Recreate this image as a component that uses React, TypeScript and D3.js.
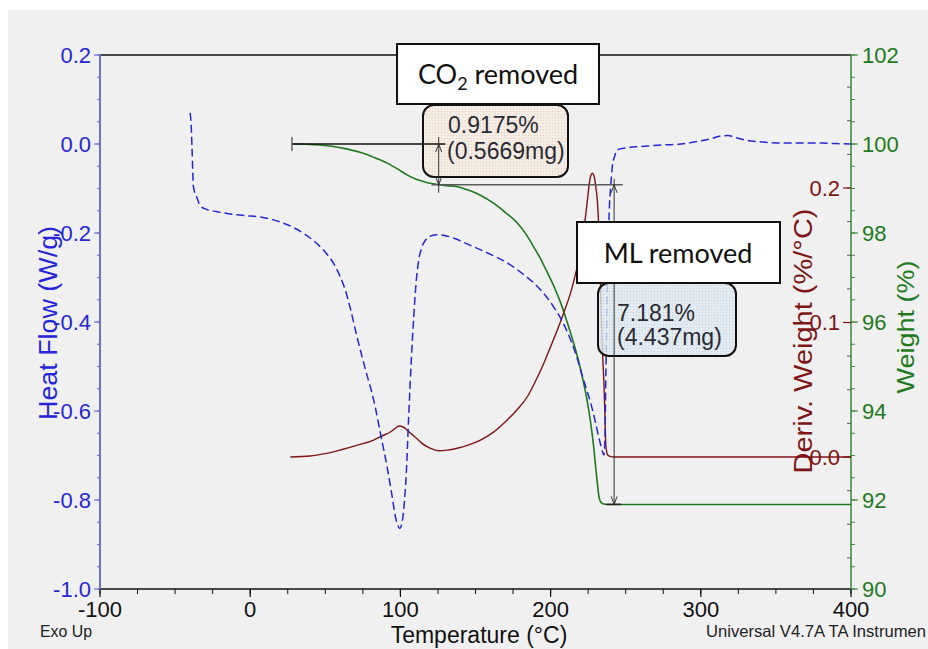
import React from "react";
import * as d3 from "d3";

// ---- Heat flow (W/g) ----
const hfTemp = [-40, -39.3, -38.7, -37.8, -35.3, -33.3, -29, -22.2, -12, 0, 6.7, 15, 22.2, 29, 35.5, 41, 46.7, 51, 55.5, 59.5, 63.3, 67, 71.1, 77, 82.2, 87, 91.1, 94.5, 96.7, 98.3, 99.5, 100.8, 102.2, 104, 105.5, 107.2, 108.9, 110.5, 112.2, 114.3, 116.7, 120, 124.5, 130, 136.7, 142, 148.9, 160, 171.1, 180, 188.7, 196, 202, 208, 213.3, 217, 220, 223.5, 226.7, 229.5, 232, 233.5, 234.6, 235.5, 236.2, 236.7, 237.3, 237.8, 238.4, 238.9, 240, 241.1, 242.7, 244.5, 250, 258, 266.7, 276, 286.7, 293, 300, 307, 313.3, 318, 323.3, 333.3, 343, 353.3, 366, 380, 390, 400];
const hfValue = [0.07, 0.043, -0.013, -0.096, -0.122, -0.139, -0.147, -0.152, -0.158, -0.162, -0.164, -0.17, -0.178, -0.188, -0.201, -0.214, -0.231, -0.247, -0.268, -0.295, -0.328, -0.374, -0.433, -0.51, -0.575, -0.655, -0.725, -0.792, -0.838, -0.857, -0.864, -0.855, -0.822, -0.735, -0.613, -0.49, -0.388, -0.31, -0.261, -0.232, -0.216, -0.207, -0.204, -0.206, -0.213, -0.221, -0.231, -0.248, -0.267, -0.288, -0.312, -0.338, -0.366, -0.4, -0.44, -0.474, -0.508, -0.547, -0.582, -0.62, -0.658, -0.678, -0.692, -0.699, -0.66, -0.538, -0.42, -0.312, -0.225, -0.163, -0.095, -0.051, -0.027, -0.013, -0.009, -0.006, -0.004, -0.002, 0.0, 0.003, 0.007, 0.012, 0.018, 0.019, 0.014, 0.007, 0.004, 0.002, 0.002, 0.002, 0.001, 0.0];

// ---- Derivative weight (%/°C) ----
const dwTemp = [26.7, 40, 50, 60, 72, 82.2, 88, 93.3, 96.5, 98.9, 101.5, 104.5, 107.5, 110.7, 114, 117.8, 121.5, 125.5, 131, 137.8, 145, 153.3, 162, 171.1, 178, 184.5, 190, 195.5, 200, 204.5, 209, 213.3, 217, 220, 222.5, 224.5, 225.5, 226.3, 227.1, 227.8, 228.6, 229.3, 230.2, 231.1, 232.2, 233.3, 234.5, 235.5, 236.2, 236.7, 237.3, 238, 240, 242.2, 260, 300, 350, 400];
const dwValue = [0, 0.0007, 0.0025, 0.0052, 0.009, 0.0126, 0.0158, 0.0186, 0.0212, 0.023, 0.0225, 0.02, 0.017, 0.014, 0.0105, 0.0077, 0.0058, 0.0047, 0.0051, 0.0065, 0.0088, 0.0126, 0.0185, 0.0275, 0.0355, 0.0448, 0.0565, 0.0697, 0.082, 0.0944, 0.108, 0.122, 0.138, 0.154, 0.172, 0.191, 0.201, 0.207, 0.21, 0.211, 0.21, 0.207, 0.2, 0.191, 0.167, 0.125, 0.08, 0.055, 0.03, 0.01, 0.004, 0.0015, 0.0003, 0, 0, 0, 0, 0];

// ---- Weight (%) ----
const wTemp = [28, 33.3, 43, 53.3, 64, 75.3, 83, 91.3, 98, 104.7, 111, 118, 124.7, 131, 138, 144.7, 153.3, 162, 170, 178, 183.5, 188.7, 193.5, 198, 202.5, 206.7, 211, 215.3, 218.8, 222, 224.5, 226.7, 228.5, 230, 231.2, 232.2, 233.2, 234, 235.5, 237.3, 300, 400];
const wValue = [100, 100, 99.985, 99.955, 99.89, 99.79, 99.69, 99.57, 99.44, 99.3, 99.2, 99.13, 99.09, 99.065, 99.04, 98.97, 98.85, 98.67, 98.46, 98.22, 97.98, 97.69, 97.41, 97.1, 96.78, 96.43, 96.0, 95.53, 95.1, 94.63, 94.2, 93.73, 93.25, 92.74, 92.35, 92.07, 91.97, 91.93, 91.91, 91.9, 91.9, 91.9];

// ---- Step annotation (weight loss analysis) ----
const stepLevels = [100, 100 - 0.9175, 100 - 0.9175 - 7.181];
const stepArrowTemps = [125.5, 242.3];
const stepStartTemp = 27.8;
const stepLineEnds = [[27.8, 130], [120.7, 248], [237, 247]];
const stepLabels = [["0.9175%", "(0.5669mg)"], ["7.181%", "(4.437mg)"]];

// ---- Axes ticks ----
const xTicks = [-100, 0, 100, 200, 300, 400];
const hfTicks = [0.2, 0.0, -0.2, -0.4, -0.6, -0.8, -1.0];
const dwTicks = [0.0, 0.1, 0.2];
const wTicks = [90, 92, 94, 96, 98, 100, 102];

const W = 928;
const H = 649;
const L = 100;
const R = 851;
const T = 55;
const B = 589;

const x = d3.scaleLinear().domain([-100, 400]).range([L, R]);
const yHF = d3.scaleLinear().domain([-1.0, 0.2]).range([B, T]);
const yW = d3.scaleLinear().domain([90, 102]).range([B, T]);
const yD = d3.scaleLinear().domain([0, 0.2]).range([457, 188]);

const FONT = "'Liberation Sans', Arial, sans-serif";
const BOXFONT = "Lato, 'Open Sans', sans-serif";
const BLUE = "#2626d6";
const BROWN = "#7e1414";
const GREEN = "#1d7a1d";

function mkLine(tt: number[], vv: number[], ys: d3.ScaleLinear<number, number>) {
  const pts: [number, number][] = tt.map((t, i) => [t, vv[i]]);
  return d3
    .line<[number, number]>()
    .x((d) => x(d[0]))
    .y((d) => ys(d[1]))
    .curve(d3.curveMonotoneX)(pts) as string;
}

function range(a: number, b: number, s: number) {
  const out: number[] = [];
  for (let v = a; v <= b + 1e-9; v += s) out.push(+v.toFixed(4));
  return out;
}

function ArrowV({ xp, y1, y2, tipUp, tipDown }: { xp: number; y1: number; y2: number; tipUp: number; tipDown: number }) {
  return (
    <g stroke="#333" strokeWidth={1} fill="none">
      <line x1={xp} x2={xp} y1={y1} y2={y2} />
      <path d={`M${xp - 3},${tipUp + 8} L${xp},${tipUp} L${xp + 3},${tipUp + 8}`} />
      <path d={`M${xp - 3},${tipDown - 8} L${xp},${tipDown} L${xp + 3},${tipDown - 8}`} />
    </g>
  );
}

export default function App() {
  const hfPath = mkLine(hfTemp, hfValue, yHF);
  const dwPath = mkLine(dwTemp, dwValue, yD);
  const wPath = mkLine(wTemp, wValue, yW);

  const hfMinor = range(-1.0, 0.2, 0.05);
  const xMinor = range(-100, 400, 25);
  const wMinor = range(90, 102, 0.5);
  const dMinor = range(-0.075, 0.275, 0.025);

  const lv = stepLevels.map((v) => yW(v));
  const ax1 = x(stepArrowTemps[0]);
  const ax2 = x(stepArrowTemps[1]);

  return (
    <svg width={W} height={H} style={{ position: "absolute", left: 0, top: 0 }} fontFamily={FONT}>
      <defs>
        <pattern id="dotA" width="3" height="3" patternUnits="userSpaceOnUse">
          <rect width="3" height="3" fill="#f6ebe1" />
          <rect width="1" height="1" fill="#e0cdbb" />
        </pattern>
        <pattern id="dotB" width="3" height="3" patternUnits="userSpaceOnUse">
          <rect width="3" height="3" fill="#dfeaf1" />
          <rect width="1" height="1" fill="#b9ccd8" />
        </pattern>
      </defs>
      <rect x={0} y={0} width={W} height={H} fill="#ffffff" />
      <rect x={8} y={10} width={W - 8} height={H - 10} fill="#f0f0f0" />

      {/* frame */}
      <line x1={L} x2={R} y1={T} y2={T} stroke="#111" strokeWidth={1.5} />
      <line x1={L} x2={R} y1={B} y2={B} stroke="#111" strokeWidth={1.5} />
      <line x1={L} x2={L} y1={T} y2={B} stroke="#6e6ed2" strokeWidth={2} />
      <line x1={R} x2={R} y1={T} y2={B} stroke="#3a8a3a" strokeWidth={1.5} />

      {/* bottom ticks */}
      {xMinor.map((v) => (
        <line key={"xm" + v} x1={x(v)} x2={x(v)} y1={B} y2={B + 5} stroke="#111" strokeWidth={1} />
      ))}
      {xTicks.map((v) => (
        <g key={"xt" + v}>
          <line x1={x(v)} x2={x(v)} y1={B} y2={B + 8} stroke="#111" strokeWidth={1.2} />
          <text x={x(v)} y={617} textAnchor="middle" fontSize={22} fill="#111">
            {v}
          </text>
        </g>
      ))}

      {/* left ticks */}
      {hfMinor.map((v) => (
        <line key={"hm" + v} x1={L - 3} x2={L} y1={yHF(v)} y2={yHF(v)} stroke="#6e6ed2" strokeWidth={1.2} />
      ))}
      {hfTicks.map((v) => (
        <g key={"ht" + v}>
          <line x1={L - 6} x2={L} y1={yHF(v)} y2={yHF(v)} stroke="#6e6ed2" strokeWidth={1.2} />
          <text x={L - 9} y={yHF(v)} dy="0.36em" textAnchor="end" fontSize={22} fill={BLUE}>
            {v.toFixed(1)}
          </text>
        </g>
      ))}

      {/* right ticks: weight (outside) */}
      {wMinor.map((v) => (
        <line key={"wm" + v} x1={R} x2={R + 4} y1={yW(v)} y2={yW(v)} stroke="#3a8a3a" strokeWidth={1} />
      ))}
      {wTicks.map((v) => (
        <g key={"wt" + v}>
          <line x1={R} x2={R + 7} y1={yW(v)} y2={yW(v)} stroke="#3a8a3a" strokeWidth={1.2} />
          <text x={R + 11} y={yW(v)} dy="0.36em" fontSize={22} fill={GREEN}>
            {v}
          </text>
        </g>
      ))}
      {/* right ticks: deriv (inside) */}
      {dMinor.map((v) => (
        <line key={"dm" + v} x1={R - 4} x2={R} y1={yD(v)} y2={yD(v)} stroke="#555" strokeWidth={1} />
      ))}
      {dwTicks.map((v) => (
        <g key={"dt" + v}>
          <line x1={R - 8} x2={R} y1={yD(v)} y2={yD(v)} stroke={BROWN} strokeWidth={1.2} />
          <text x={R - 11} y={yD(v)} dy="0.36em" textAnchor="end" fontSize={22} fill={BROWN}>
            {v.toFixed(1)}
          </text>
        </g>
      ))}

      {/* curves */}
      <path d={wPath} fill="none" stroke={GREEN} strokeWidth={1.6} />
      <path d={dwPath} fill="none" stroke={BROWN} strokeWidth={1.4} />
      <path d={hfPath} fill="none" stroke={BLUE} strokeWidth={1.5} strokeDasharray="8 4" />

      {/* value boxes */}
      <rect x={423} y={105} width={145} height={72} rx={11} fill="url(#dotA)" fillOpacity={0.88} stroke="#111" strokeWidth={2} />
      <rect x={598} y={283} width={138} height={73} rx={11} fill="url(#dotB)" fillOpacity={0.8} stroke="#111" strokeWidth={2} />
      <text x={448} y={133} fontSize={23} fill="#2a2a33">{stepLabels[0][0]}</text>
      <text x={447} y={159} fontSize={23} fill="#2a2a33">{stepLabels[0][1]}</text>
      <text x={617} y={321} fontSize={23} fill="#2a2a33">{stepLabels[1][0]}</text>
      <text x={617} y={345} fontSize={23} fill="#2a2a33">{stepLabels[1][1]}</text>

      {/* step lines */}
      <line x1={x(stepLineEnds[0][0])} x2={x(stepLineEnds[0][1])} y1={lv[0]} y2={lv[0]} stroke="#111" strokeWidth={1.3} />
      <line x1={x(stepStartTemp)} x2={x(stepStartTemp)} y1={lv[0] - 7} y2={lv[0] + 7} stroke="#666" strokeWidth={1.5} />
      <line x1={x(stepLineEnds[1][0])} x2={x(stepLineEnds[1][1])} y1={lv[1]} y2={lv[1]} stroke="#5a5a5a" strokeWidth={1.5} />
      <line x1={x(stepLineEnds[2][0])} x2={x(stepLineEnds[2][1])} y1={lv[2]} y2={lv[2]} stroke="#222" strokeWidth={1.5} />
      <ArrowV xp={ax1} y1={lv[0] - 7} y2={lv[1] + 8} tipUp={lv[0]} tipDown={lv[1]} />
      <ArrowV xp={ax2} y1={lv[1] - 6} y2={lv[2] + 1} tipUp={lv[1]} tipDown={lv[2]} />

      {/* label boxes */}
      <rect x={397} y={44} width={202} height={60} fill="#fff" stroke="#111" strokeWidth={2} />
      <text x={498} y={84} textAnchor="middle" fontSize={27} fontFamily={BOXFONT} fill="#111">
        CO<tspan dy={6} fontSize={18}>2</tspan>
        <tspan dy={-6}> removed</tspan>
      </text>
      <rect x={577} y={222} width={203} height={61} fill="#fff" stroke="#111" strokeWidth={2} />
      <text x={678} y={263} textAnchor="middle" fontSize={27} fontFamily={BOXFONT} fill="#111">
        ML removed
      </text>

      {/* axis titles */}
      <text transform="translate(57,323) rotate(-90)" textAnchor="middle" fontSize={26} fill={BLUE} textLength={194} lengthAdjust="spacingAndGlyphs">
        Heat Flow (W/g)
      </text>
      <text transform="translate(812,341) rotate(-90)" textAnchor="middle" fontSize={25} fill={BROWN} textLength={265} lengthAdjust="spacingAndGlyphs">
        Deriv. Weight (%/°C)
      </text>
      <text transform="translate(914,327) rotate(-90)" textAnchor="middle" fontSize={24} fill={GREEN} textLength={133} lengthAdjust="spacingAndGlyphs">
        Weight (%)
      </text>
      <text x={479} y={643} textAnchor="middle" fontSize={23} fill="#111">
        Temperature (°C)
      </text>
      <text x={40} y={637} fontSize={16} fill="#222" textLength={52} lengthAdjust="spacingAndGlyphs">
        Exo Up
      </text>
      <text x={706} y={637} fontSize={16.5} fill="#222" textLength={220} lengthAdjust="spacingAndGlyphs">
        Universal V4.7A TA Instrumen
      </text>
    </svg>
  );
}
